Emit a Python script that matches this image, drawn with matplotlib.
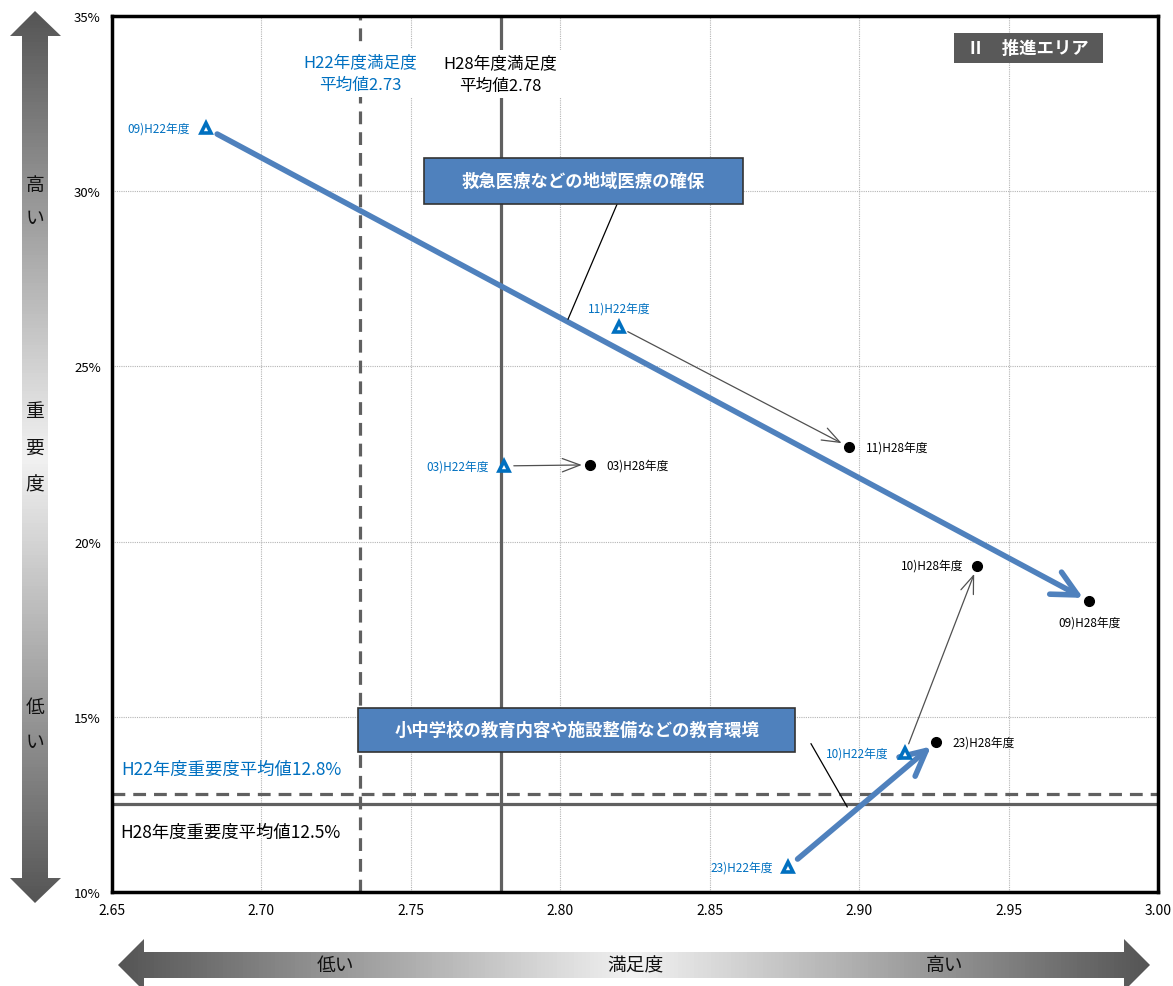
import numpy as np
import matplotlib
matplotlib.use("Agg")
import matplotlib.pyplot as plt
from matplotlib.patches import Polygon, Rectangle
from matplotlib.colors import LinearSegmentedColormap

plt.rcParams['font.family'] = ['Noto Sans CJK JP', 'DejaVu Sans']

# ---- data ----
item_ids = ["09", "11", "03", "10", "23"]
sat_h22 = [2.6815, 2.8197, 2.7812, 2.9154, 2.8762]
imp_h22 = [31.80, 26.12, 22.16, 13.97, 10.71]
sat_h28 = [2.977, 2.8966, 2.810, 2.9395, 2.9258]
imp_h28 = [18.30, 22.70, 22.19, 19.30, 14.28]
highlight = [True, False, False, False, True]

sat_mean_h22 = 2.733
sat_mean_h28 = 2.78
imp_mean_h22 = 12.8
imp_mean_h28 = 12.5

x_ticks = [2.65, 2.70, 2.75, 2.80, 2.85, 2.90, 2.95, 3.00]
y_ticks = [10, 15, 20, 25, 30, 35]

BLUE_TXT = "#0070C0"
BLUE_ARW = "#4F81BD"
GRAY_LINE = "#606060"

fig = plt.figure(figsize=(11.73, 9.87), dpi=100)

# ---- background overlay for gradient arrows (pixel coords) ----
bg = fig.add_axes([0, 0, 1, 1], zorder=0)
bg.axis("off")

cmap = LinearSegmentedColormap.from_list("g", ["#555555", "#f2f2f2", "#555555"])
vpoly = [(35, 12), (61, 37), (48, 37), (48, 879), (61, 879), (35, 904),
         (10, 879), (22, 879), (22, 37), (10, 37)]
grad_v = np.linspace(0, 1, 256).reshape(-1, 1)
im = bg.imshow(grad_v, cmap=cmap, extent=(10, 61, 904, 12), aspect="auto")
p = Polygon(vpoly, closed=True, facecolor="none", edgecolor="none")
bg.add_patch(p)
im.set_clip_path(p)
hpoly = [(118, 966), (144, 940), (144, 953), (1124, 953), (1124, 940), (1150, 966),
         (1124, 992), (1124, 979), (144, 979), (144, 992)]
grad_h = np.linspace(0, 1, 256).reshape(1, -1)
im2 = bg.imshow(grad_h, cmap=cmap, extent=(118, 1150, 992, 940), aspect="auto")
p2 = Polygon(hpoly, closed=True, facecolor="none", edgecolor="none")
bg.add_patch(p2)
im2.set_clip_path(p2)
bg.set_xlim(0, 1173)
bg.set_ylim(987, 0)

for ch, yy in [("高", 185), ("い", 218), ("重", 412), ("要", 448), ("度", 485), ("低", 707), ("い", 742)]:
    bg.text(35, yy, ch, ha="center", va="center", fontsize=13.5, color="#111111")
for t, xx in [("低い", 335), ("満足度", 635), ("高い", 945)]:
    bg.text(xx, 966, t, ha="center", va="center", fontsize=13.5, color="#111111")

# ---- main axes ----
ax = fig.add_axes([112 / 1173, 1 - 893 / 987, (1158 - 112) / 1173, (893 - 17) / 987], zorder=1)
ax.set_xlim(2.65, 3.00)
ax.set_ylim(10, 35)
ax.set_xticks(x_ticks)
ax.set_xticklabels([f"{v:.2f}" for v in x_ticks], fontsize=10)
ax.set_yticks(y_ticks)
ax.set_yticklabels([f"{v}%" for v in y_ticks], fontsize=9.5)
ax.tick_params(length=0, pad=8)
ax.grid(True, color="#b5b5b5", linestyle=(0, (1, 1)), linewidth=0.8)
ax.set_axisbelow(True)
for s in ax.spines.values():
    s.set_linewidth(2.5)
    s.set_color("black")

# mean lines
ax.axvline(sat_mean_h22, color=GRAY_LINE, lw=2.3, linestyle=(0, (4, 2.5)), zorder=2)
ax.axvline(sat_mean_h28, color=GRAY_LINE, lw=2.3, zorder=2)
ax.axhline(imp_mean_h22, color=GRAY_LINE, lw=2.3, linestyle=(0, (4, 2.5)), zorder=2)
ax.axhline(imp_mean_h28, color=GRAY_LINE, lw=2.3, zorder=2)

# mean line labels
ax.text(sat_mean_h22, 33.38, f"H22年度満足度\n平均値{sat_mean_h22:.2f}", ha="center", va="center",
        fontsize=12, color=BLUE_TXT, linespacing=1.45,
        bbox=dict(facecolor="white", edgecolor="none", pad=3), zorder=3)
ax.text(sat_mean_h28, 33.35, f"H28年度満足度\n平均値{sat_mean_h28:.2f}", ha="center", va="center",
        fontsize=12, color="black", linespacing=1.45,
        bbox=dict(facecolor="white", edgecolor="none", pad=3), zorder=3)
ax.text(2.6532, 13.52, f"H22年度重要度平均値{imp_mean_h22}%", ha="left", va="center",
        fontsize=12.5, color=BLUE_TXT, zorder=3)
ax.text(2.6527, 11.73, f"H28年度重要度平均値{imp_mean_h28}%", ha="left", va="center",
        fontsize=12.5, color="black", zorder=3)

# arrows
for i in range(len(item_ids)):
    if highlight[i]:
        ap = dict(arrowstyle="->,head_length=0.9,head_width=0.45", color=BLUE_ARW, lw=4,
                  shrinkA=9, shrinkB=5, mutation_scale=20)
    else:
        ap = dict(arrowstyle="->,head_length=0.8,head_width=0.3", color="#505050", lw=0.9,
                  shrinkA=7, shrinkB=6, mutation_scale=16)
    ax.annotate("", xy=(sat_h28[i], imp_h28[i]), xytext=(sat_h22[i], imp_h22[i]),
                arrowprops=ap, zorder=4)

# points
ax.plot(sat_h22, imp_h22, linestyle="none", marker="^", markersize=7, markerfacecolor="white",
        markeredgecolor=BLUE_TXT, markeredgewidth=2.6, zorder=5)
ax.plot(sat_h28, imp_h28, linestyle="none", marker="o", markersize=7, color="black", zorder=5)

# point labels
h22_offsets = {"09": (-12, 0, "right", "center"), "11": (0, 14, "center", "center"),
               "03": (-11, 0, "right", "center"), "10": (-12, 0, "right", "center"),
               "23": (-11, 0, "right", "center")}
h28_offsets = {"09": (0, -15, "center", "center"), "11": (12, 0, "left", "center"),
               "03": (12, 0, "left", "center"), "10": (-10, 1, "right", "center"),
               "23": (12, 0, "left", "center")}
for i, k in enumerate(item_ids):
    dx, dy, ha, va = h22_offsets[k]
    ax.annotate(f"{k})H22年度", (sat_h22[i], imp_h22[i]), xytext=(dx, dy), textcoords="offset points",
                ha=ha, va=va, fontsize=8.5, color=BLUE_TXT, zorder=6)
    dx, dy, ha, va = h28_offsets[k]
    ax.annotate(f"{k})H28年度", (sat_h28[i], imp_h28[i]), xytext=(dx, dy), textcoords="offset points",
                ha=ha, va=va, fontsize=8.5, color="black", zorder=6)

# callout boxes
boxes = [
    ("救急医療などの地域医療の確保", (2.7544, 29.63, 2.8612, 30.95), ((2.819, 29.63), (2.8026, 26.35))),
    ("小中学校の教育内容や施設整備などの教育環境", (2.7323, 14.00, 2.8786, 15.25), ((2.8839, 14.23), (2.896, 12.43))),
]
for txt, (x0, y0, x1, y1), (p0, p1) in boxes:
    ax.add_patch(Rectangle((x0, y0), x1 - x0, y1 - y0, facecolor=BLUE_ARW, edgecolor="#333333",
                           lw=1.2, zorder=7))
    ax.text((x0 + x1) / 2, (y0 + y1) / 2, txt, ha="center", va="center", color="white",
            fontsize=12.5, fontweight="bold", zorder=8)
    ax.plot([p0[0], p1[0]], [p0[1], p1[1]], color="black", lw=0.9, zorder=6)

# area label
ax.add_patch(Rectangle((0.805, 0.9463), 0.142, 0.0343, transform=ax.transAxes,
                       facecolor="#595959", edgecolor="none", zorder=7))
ax.text(0.876, 0.9635, "Ⅱ　推進エリア", transform=ax.transAxes, ha="center", va="center",
        color="white", fontsize=12.5, fontweight="bold", zorder=8)

fig.savefig("out.png", dpi=100)
